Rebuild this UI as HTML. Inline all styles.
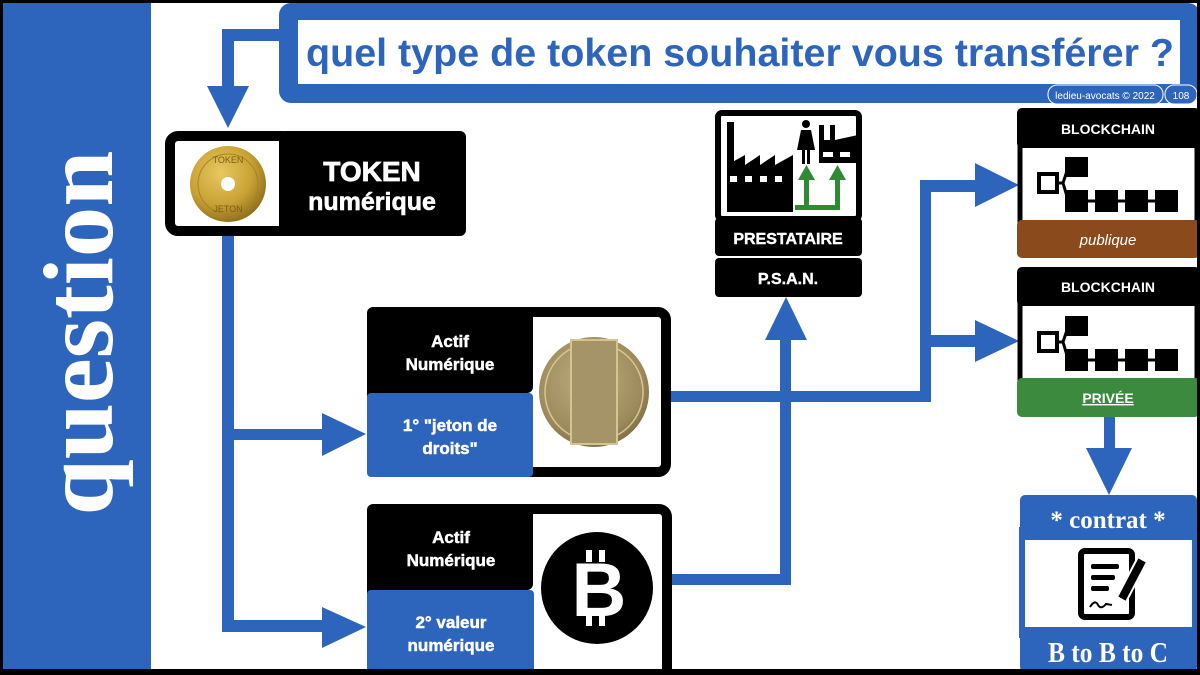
<!DOCTYPE html>
<html><head><meta charset="utf-8"><style>
html,body{margin:0;padding:0;background:#fff;}
svg{display:block;}
</style></head><body>
<svg width="1200" height="675" viewBox="0 0 1200 675" xmlns="http://www.w3.org/2000/svg">
<defs>
<radialGradient id="gold" cx="40%" cy="35%" r="70%"><stop offset="0" stop-color="#e8c860"/><stop offset="0.6" stop-color="#c9a235"/><stop offset="1" stop-color="#8a6a1c"/></radialGradient>
<radialGradient id="brass" cx="45%" cy="40%" r="70%"><stop offset="0" stop-color="#bfae80"/><stop offset="0.7" stop-color="#9c8a5c"/><stop offset="1" stop-color="#6d5e3a"/></radialGradient>
</defs>
<rect x="0" y="0" width="1200" height="675" fill="#fff"/>
<!-- left panel -->
<rect x="0" y="0" width="151" height="675" fill="#2d64bc"/>
<text transform="translate(112,333) rotate(-90)" text-anchor="middle" font-family="Liberation Serif, serif" font-weight="bold" font-size="100" fill="#fff" textLength="365" lengthAdjust="spacingAndGlyphs">question</text>

<!-- title box -->
<rect x="279" y="3" width="921" height="100" rx="12" fill="#2d64bc"/>
<rect x="298" y="20" width="882" height="64" fill="#fff"/>
<text x="740" y="66" text-anchor="middle" font-family="Liberation Sans, sans-serif" font-weight="bold" font-size="39" fill="#2d64bc" textLength="868" lengthAdjust="spacingAndGlyphs">quel type de token souhaiter vous transférer ?</text>
<rect x="1048" y="85" width="115" height="19" rx="9" fill="#2d64bc" stroke="#fff" stroke-width="1"/>
<text x="1105" y="99" text-anchor="middle" font-family="Liberation Sans, sans-serif" font-size="10" fill="#fff">ledieu-avocats © 2022</text>
<rect x="1165" y="85" width="32" height="19" rx="9" fill="#2d64bc" stroke="#fff" stroke-width="1"/>
<text x="1181" y="99" text-anchor="middle" font-family="Liberation Sans, sans-serif" font-size="10" fill="#fff">108</text>

<!-- arrows -->
<g fill="#2d64bc">
<rect x="222" y="29" width="58" height="12"/>
<rect x="222" y="29" width="12" height="60"/>
<polygon points="207,86 249,86 228,128"/>
<rect x="222" y="236" width="12" height="396"/>
<rect x="222" y="429" width="102" height="11"/>
<polygon points="322,413 366,434 322,456"/>
<rect x="222" y="620" width="102" height="12"/>
<polygon points="322,607 366,627 322,648"/>
<rect x="671" y="391" width="260" height="11"/>
<rect x="920" y="180" width="11" height="222"/>
<rect x="920" y="180" width="58" height="12"/>
<polygon points="975,163 1019,185 975,207"/>
<rect x="920" y="335" width="58" height="12"/>
<polygon points="975,320 1019,341 975,362"/>
<rect x="672" y="574" width="119" height="11"/>
<rect x="780" y="335" width="11" height="250"/>
<polygon points="765,340 807,340 786,297"/>
<rect x="1104" y="417" width="11" height="35"/>
<polygon points="1086,448 1132,448 1109,495"/>
</g>

<!-- token box -->
<rect x="170" y="136" width="120" height="95" rx="8" fill="#fff" stroke="#000" stroke-width="10"/>
<rect x="279" y="131" width="187" height="105" rx="6" fill="#000"/>
<text x="372" y="181" text-anchor="middle" font-family="Liberation Sans, sans-serif" font-weight="bold" font-size="28" fill="#fff" stroke="#fff" stroke-width="0.8">TOKEN</text>
<text x="372" y="210" text-anchor="middle" font-family="Liberation Sans, sans-serif" font-weight="bold" font-size="25" fill="#fff" stroke="#fff" stroke-width="0.6">numérique</text>
<circle cx="228" cy="184" r="38" fill="url(#gold)"/>
<circle cx="228" cy="184" r="30" fill="none" stroke="#a88322" stroke-width="1"/>
<circle cx="228" cy="184" r="7" fill="#fff"/>
<text x="228" y="163" text-anchor="middle" font-family="Liberation Sans, sans-serif" font-size="9" fill="#7a5d14">TOKEN</text>
<text x="228" y="212" text-anchor="middle" font-family="Liberation Sans, sans-serif" font-size="9" fill="#7a5d14">JETON</text>

<!-- Actif box 1 -->
<rect x="372" y="312" width="294" height="160" rx="8" fill="#fff" stroke="#000" stroke-width="10"/>
<rect x="367" y="307" width="166" height="86" rx="6" fill="#000"/>
<text x="450" y="347" text-anchor="middle" font-family="Liberation Sans, sans-serif" font-weight="bold" font-size="17" fill="#fff" stroke="#fff" stroke-width="0.5">Actif</text>
<text x="450" y="370" text-anchor="middle" font-family="Liberation Sans, sans-serif" font-weight="bold" font-size="17" fill="#fff" stroke="#fff" stroke-width="0.5">Numérique</text>
<rect x="367" y="393" width="166" height="84" rx="4" fill="#2d64bc"/>
<text x="450" y="431" text-anchor="middle" font-family="Liberation Sans, sans-serif" font-weight="bold" font-size="17" fill="#fff" stroke="#fff" stroke-width="0.5">1° "jeton de</text>
<text x="450" y="454" text-anchor="middle" font-family="Liberation Sans, sans-serif" font-weight="bold" font-size="17" fill="#fff" stroke="#fff" stroke-width="0.5">droits"</text>
<circle cx="594" cy="392" r="55" fill="url(#brass)"/>
<circle cx="594" cy="392" r="49" fill="none" stroke="#d8c690" stroke-width="1.5"/>
<rect x="571" y="340" width="46" height="104" fill="#a59467" stroke="#d5c48f" stroke-width="2"/>

<!-- Actif box 2 -->
<rect x="372" y="509" width="295" height="170" rx="8" fill="#fff" stroke="#000" stroke-width="10"/>
<rect x="367" y="504" width="166" height="86" rx="6" fill="#000"/>
<text x="451" y="543" text-anchor="middle" font-family="Liberation Sans, sans-serif" font-weight="bold" font-size="17" fill="#fff" stroke="#fff" stroke-width="0.5">Actif</text>
<text x="451" y="566" text-anchor="middle" font-family="Liberation Sans, sans-serif" font-weight="bold" font-size="17" fill="#fff" stroke="#fff" stroke-width="0.5">Numérique</text>
<rect x="367" y="590" width="167" height="85" rx="4" fill="#2d64bc"/>
<text x="451" y="628" text-anchor="middle" font-family="Liberation Sans, sans-serif" font-weight="bold" font-size="17" fill="#fff" stroke="#fff" stroke-width="0.5">2° valeur</text>
<text x="451" y="651" text-anchor="middle" font-family="Liberation Sans, sans-serif" font-weight="bold" font-size="17" fill="#fff" stroke="#fff" stroke-width="0.5">numérique</text>
<circle cx="597" cy="588" r="56" fill="#000"/>
<text x="599" y="616" text-anchor="middle" font-family="Liberation Sans, sans-serif" font-weight="bold" font-size="76" fill="#fff">B</text>
<rect x="586" y="550" width="6" height="12" fill="#fff"/><rect x="599" y="550" width="6" height="12" fill="#fff"/>
<rect x="586" y="614" width="6" height="12" fill="#fff"/><rect x="599" y="614" width="6" height="12" fill="#fff"/>

<!-- Prestataire -->
<rect x="718" y="113" width="141" height="106" rx="4" fill="#fff" stroke="#000" stroke-width="6"/>
<g fill="#000">
<rect x="727" y="122" width="7" height="90"/>
<polygon points="727,212 727,165 745,155 745,165 760,155 760,165 775,155 775,165 793,155 793,212"/>
</g>
<g fill="#fff"><rect x="730" y="176" width="7" height="6"/><rect x="745" y="176" width="7" height="6"/><rect x="760" y="176" width="7" height="6"/><rect x="775" y="176" width="7" height="6"/></g>
<g fill="#000">
<circle cx="806" cy="124" r="4"/>
<polygon points="801,130 811,130 815,150 797,150"/>
<rect x="802" y="150" width="3" height="14"/><rect x="807" y="150" width="3" height="14"/>
<polygon points="819,163 819,125 824,125 824,140 830,140 830,125 835,125 835,140 858,135 858,163"/>
</g>
<g fill="#fff"><rect x="823" y="152" width="10" height="5"/><rect x="840" y="152" width="10" height="5"/></g>
<g fill="#2e8a34">
<rect x="795" y="205" width="45" height="5"/>
<rect x="804" y="176" width="5" height="34"/>
<rect x="835" y="176" width="5" height="34"/>
<polygon points="798,180 815,180 806.5,165"/>
<polygon points="829,180 846,180 837.5,165"/>
</g>
<rect x="715" y="218" width="147" height="38" rx="4" fill="#000"/>
<text x="788" y="244" text-anchor="middle" font-family="Liberation Sans, sans-serif" font-weight="bold" font-size="16" fill="#fff" stroke="#fff" stroke-width="0.4">PRESTATAIRE</text>
<rect x="715" y="258" width="147" height="39" rx="4" fill="#000"/>
<text x="788" y="284" text-anchor="middle" font-family="Liberation Sans, sans-serif" font-weight="bold" font-size="16" fill="#fff" stroke="#fff" stroke-width="0.4">P.S.A.N.</text>

<!-- Blockchain 1 -->
<rect x="1020" y="140" width="177" height="85" fill="#fff" stroke="#000" stroke-width="5"/>
<rect x="1017" y="108" width="183" height="40" rx="5" fill="#000"/>
<text x="1108" y="134" text-anchor="middle" font-family="Liberation Sans, sans-serif" font-weight="bold" font-size="14" fill="#fff">BLOCKCHAIN</text>
<g>
<rect x="1039" y="174" width="18" height="18" fill="#fff" stroke="#000" stroke-width="4"/>
<path d="M1057,183 L1063,183 L1068,168 M1063,183 L1068,200 M1065,201 L1178,201" stroke="#000" stroke-width="3" fill="none"/>
<rect x="1065" y="157" width="23" height="20" fill="#000"/>
<rect x="1065" y="190" width="23" height="22" fill="#000"/>
<rect x="1095" y="190" width="23" height="22" fill="#000"/>
<rect x="1125" y="190" width="23" height="22" fill="#000"/>
<rect x="1155" y="190" width="23" height="22" fill="#000"/>
</g>
<rect x="1017" y="220" width="183" height="38" rx="5" fill="#8b4a1c"/>
<text x="1108" y="245" text-anchor="middle" font-family="Liberation Sans, sans-serif" font-style="italic" font-size="15" fill="#fff">publique</text>

<!-- Blockchain 2 -->
<rect x="1020" y="298" width="177" height="85" fill="#fff" stroke="#000" stroke-width="5"/>
<rect x="1017" y="267" width="183" height="39" rx="5" fill="#000"/>
<text x="1108" y="292" text-anchor="middle" font-family="Liberation Sans, sans-serif" font-weight="bold" font-size="14" fill="#fff">BLOCKCHAIN</text>
<g>
<rect x="1039" y="333" width="18" height="18" fill="#fff" stroke="#000" stroke-width="4"/>
<path d="M1057,342 L1063,342 L1068,327 M1063,342 L1068,359 M1065,360 L1178,360" stroke="#000" stroke-width="3" fill="none"/>
<rect x="1065" y="316" width="23" height="20" fill="#000"/>
<rect x="1065" y="349" width="23" height="22" fill="#000"/>
<rect x="1095" y="349" width="23" height="22" fill="#000"/>
<rect x="1125" y="349" width="23" height="22" fill="#000"/>
<rect x="1155" y="349" width="23" height="22" fill="#000"/>
</g>
<rect x="1017" y="378" width="183" height="39" rx="5" fill="#3b8a3d"/>
<text x="1108" y="403" text-anchor="middle" font-family="Liberation Sans, sans-serif" font-weight="bold" font-size="14" fill="#fff" text-decoration="underline">PRIVÉE</text>

<!-- contrat -->
<rect x="1022" y="530" width="173" height="105" fill="#fff" stroke="#2d64bc" stroke-width="6"/>
<rect x="1020" y="495" width="177" height="45" rx="5" fill="#2d64bc"/>
<text x="1108" y="528" text-anchor="middle" font-family="Liberation Serif, serif" font-weight="bold" font-size="25" fill="#fff">* contrat *</text>
<rect x="1081" y="551" width="51" height="66" rx="4" fill="none" stroke="#000" stroke-width="6"/>
<g fill="#000"><rect x="1091" y="564" width="28" height="5" rx="2"/><rect x="1091" y="575" width="24" height="5" rx="2"/><rect x="1091" y="586" width="18" height="5" rx="2"/></g>
<polygon points="1138,557 1147,562 1126,602 1117,597" fill="#000" stroke="#fff" stroke-width="2"/>
<path d="M1090,607 q5,-8 8,-2 q3,5 8,-1 l6,1" stroke="#000" stroke-width="2" fill="none"/>
<rect x="1020" y="627" width="177" height="45" rx="5" fill="#2d64bc"/>
<text x="1108" y="662" text-anchor="middle" font-family="Liberation Serif, serif" font-weight="bold" font-size="28" fill="#fff" textLength="120" lengthAdjust="spacingAndGlyphs">B to B to C</text>

<!-- frame -->
<rect x="1.5" y="1.5" width="1197" height="670" fill="none" stroke="#000" stroke-width="3"/>
<rect x="0" y="669" width="1200" height="6" fill="#000"/>
</svg>
</body></html>
